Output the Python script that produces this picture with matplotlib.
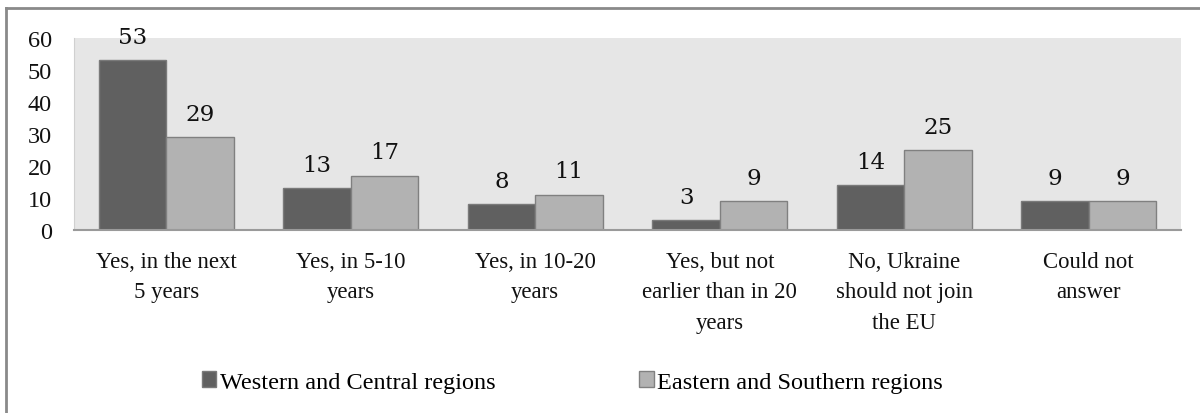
import matplotlib.pyplot as plt
import numpy as np
from matplotlib.lines import Line2D

categories = ["Yes, in the next\n5 years", "Yes, in 5-10\nyears", "Yes, in 10-20\nyears",
              "Yes, but not\nearlier than in 20\nyears", "No, Ukraine\nshould not join\nthe EU",
              "Could not\nanswer"]
western = [53, 13, 8, 3, 14, 9]
eastern = [29, 17, 11, 9, 25, 9]
series_names = ["Western and Central regions", "Eastern and Southern regions"]
yticks = [0, 10, 20, 30, 40, 50, 60]

plt.rcParams['font.family'] = ['Liberation Serif', 'DejaVu Serif']

fig = plt.figure(figsize=(12, 4.14), dpi=100)
ax = fig.add_axes([74/1200, 1-231/414, (1181-74)/1200, (231-39)/414])
ax.set_facecolor('#e6e6e6')

x = np.arange(len(categories))
w = 0.365
b1 = ax.bar(x - w/2, western, w, color='#606060', edgecolor='#7a7a7a', linewidth=1, label=series_names[0])
b2 = ax.bar(x + w/2, eastern, w, color='#b2b2b2', edgecolor='#808080', linewidth=1, label=series_names[1])

for bars in (b1, b2):
    for rect in bars:
        h = rect.get_height()
        ax.annotate(str(int(h)), (rect.get_x() + rect.get_width()/2, h), xytext=(0, 9),
                    textcoords='offset points', ha='center', va='bottom',
                    fontsize=16.5, family='DejaVu Serif', color='#111111')

ax.set_xlim(-0.5, len(categories) - 0.5)
ax.set_ylim(0, 60)
ax.set_yticks(yticks)
ax.set_xticks(x)
ax.set_xticklabels(categories, fontsize=16.4, linespacing=1.6, color='#111111')
ax.tick_params(axis='y', length=0, pad=16, labelsize=17.5, labelcolor='#111111')
ax.tick_params(axis='x', length=0, pad=15)
for s in ['top', 'right']:
    ax.spines[s].set_visible(False)
ax.spines['left'].set_color('#d0d0d0')
ax.spines['bottom'].set_color('#9a9a9a')
ax.spines['bottom'].set_linewidth(1.5)

fig.legend(handles=[b1, b2], loc='center', bbox_to_anchor=(0.477, 1-383/414), ncol=2,
           frameon=False, fontsize=17.5, handlelength=0.6, handleheight=0.6,
           handletextpad=0.15, columnspacing=5.9)

# outer frame, left and top edges
fig.add_artist(Line2D([6/1200, 6/1200], [0, 1-9/414], color='#8a8a8a', lw=2))
fig.add_artist(Line2D([6/1200, 1], [1-9/414, 1-9/414], color='#8a8a8a', lw=2))

fig.savefig('out.png', dpi=100)
